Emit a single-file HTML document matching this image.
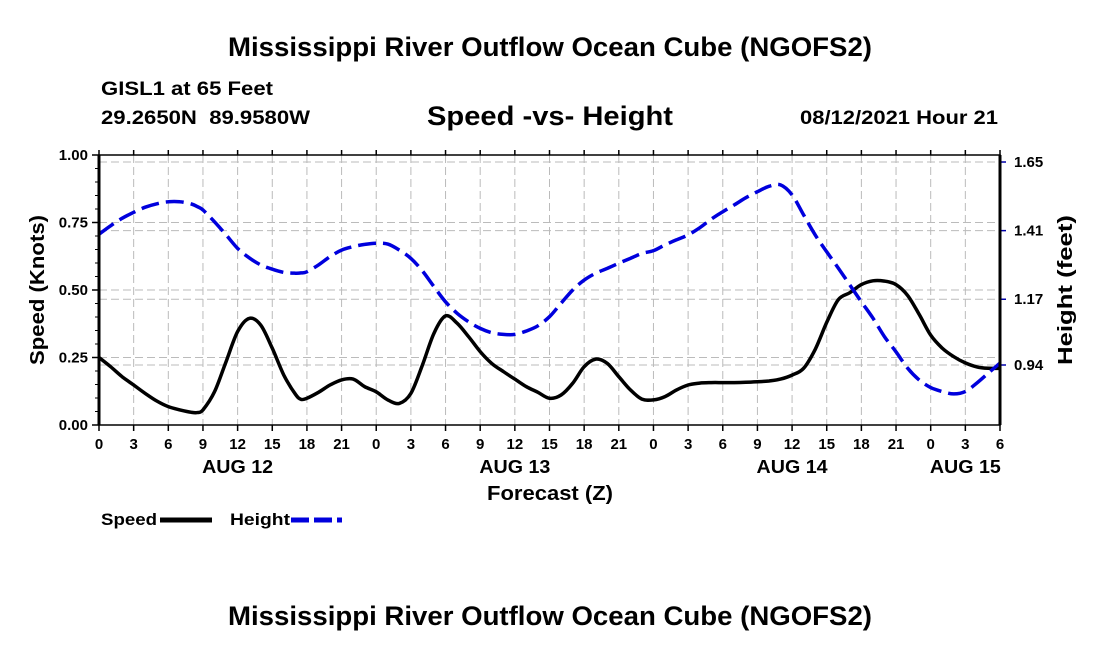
<!DOCTYPE html>
<html><head><meta charset="utf-8"><style>
body{margin:0;background:#fff;}
svg{display:block;font-family:"Liberation Sans",Arial,sans-serif;font-weight:bold;}
</style></head><body>
<svg id="chart" width="1100" height="650" viewBox="0 0 1100 650" xmlns="http://www.w3.org/2000/svg">
<rect width="1100" height="650" fill="#fff"/>
<text x="228" y="56" font-size="27" textLength="644" lengthAdjust="spacingAndGlyphs">Mississippi River Outflow Ocean Cube (NGOFS2)</text>
<text x="101" y="95" font-size="19" textLength="172" lengthAdjust="spacingAndGlyphs">GISL1 at 65 Feet</text>
<text x="101" y="124" font-size="19" textLength="209" lengthAdjust="spacingAndGlyphs" xml:space="preserve">29.2650N  89.9580W</text>
<text x="427" y="125" font-size="27" textLength="246" lengthAdjust="spacingAndGlyphs">Speed -vs- Height</text>
<text x="800" y="124" font-size="19" textLength="198" lengthAdjust="spacingAndGlyphs">08/12/2021 Hour 21</text>
<text transform="translate(44,290) rotate(-90)" font-size="20" text-anchor="middle" textLength="150" lengthAdjust="spacingAndGlyphs">Speed (Knots)</text>
<text transform="translate(1072,290) rotate(-90)" font-size="20" text-anchor="middle" textLength="150" lengthAdjust="spacingAndGlyphs">Height (feet)</text>
<text x="487" y="500" font-size="20" textLength="126" lengthAdjust="spacingAndGlyphs">Forecast (Z)</text>
<g id="grid"></g>
<g id="series"></g>
<g id="axes"></g>
<g>
<text x="101" y="525" font-size="17" textLength="56" lengthAdjust="spacingAndGlyphs">Speed</text>
<line x1="160" y1="520" x2="212" y2="520" stroke="#000" stroke-width="5"/>
<text x="230" y="525" font-size="17" textLength="60" lengthAdjust="spacingAndGlyphs">Height</text>
<line x1="291" y1="520" x2="342" y2="520" stroke="#0000dd" stroke-width="5" stroke-dasharray="18,5"/>
</g>
<text x="228" y="625" font-size="27" textLength="644" lengthAdjust="spacingAndGlyphs">Mississippi River Outflow Ocean Cube (NGOFS2)</text>
</svg>
<script>
const hours = [0,1,2,3,4,5,6,7,8,8.5,9,10,11,12,13,14,15,16,17,17.5,18,19,20,21,22,23,24,25,26,27,28,29,30,31,32,33,34,35,36,37,38,39,40,41,42,43,44,45,46,47,48,49,50,51,52,53,54,55,56,57,58,59,60,61,62,63,64,65,66,67,68,69,70,71,72,73,74,75,76,77,78];
const speedKnots = [0.25,0.216,0.179,0.148,0.117,0.089,0.068,0.056,0.047,0.046,0.056,0.123,0.235,0.346,0.395,0.37,0.284,0.185,0.114,0.095,0.099,0.121,0.148,0.167,0.17,0.142,0.123,0.093,0.08,0.117,0.222,0.34,0.404,0.377,0.327,0.272,0.228,0.198,0.17,0.142,0.121,0.099,0.111,0.154,0.216,0.244,0.228,0.179,0.13,0.096,0.093,0.105,0.13,0.148,0.155,0.157,0.157,0.157,0.158,0.16,0.163,0.17,0.185,0.21,0.28,0.38,0.464,0.49,0.52,0.534,0.533,0.52,0.48,0.41,0.333,0.285,0.253,0.23,0.215,0.21,0.21];
const heightFeet = [1.397,1.427,1.453,1.474,1.492,1.504,1.511,1.511,1.503,1.494,1.482,1.441,1.395,1.348,1.315,1.29,1.275,1.264,1.261,1.262,1.266,1.29,1.319,1.342,1.354,1.362,1.366,1.363,1.342,1.313,1.269,1.214,1.161,1.121,1.091,1.068,1.053,1.047,1.047,1.059,1.077,1.109,1.156,1.202,1.237,1.261,1.278,1.296,1.313,1.33,1.34,1.36,1.378,1.395,1.42,1.45,1.476,1.5,1.525,1.546,1.565,1.57,1.535,1.465,1.395,1.336,1.279,1.22,1.161,1.104,1.039,0.986,0.929,0.888,0.861,0.847,0.839,0.847,0.877,0.912,0.947];
const xTickLabels = ["0","3","6","9","12","15","18","21","0","3","6","9","12","15","18","21","0","3","6","9","12","15","18","21","0","3","6"];
const dayLabels = ["AUG 12","AUG 13","AUG 14","AUG 15"];
const dayLabelHours = [12,36,60,75];
const leftTicks = [0,0.25,0.5,0.75,1.0];
const leftTickLabels = ["0.00","0.25","0.50","0.75","1.00"];
const rightTicks = [0.94,1.17,1.41,1.65];
const rightTickLabels = ["0.94","1.17","1.41","1.65"];

const L=99,R=1000,T=155,B=425;
const HMAX=78;
const X=h=>L+(R-L)*h/HMAX;
const YL=v=>B-(B-T)*v/1.0;
const RPX=285.9;
const YR=v=>365-(v-0.94)*RPX;
const NS='http://www.w3.org/2000/svg';
function mk(tag,attrs,parent){const e=document.createElementNS(NS,tag);for(const k in attrs)e.setAttribute(k,attrs[k]);parent.appendChild(e);return e;}
const grid=document.getElementById('grid'),axes=document.getElementById('axes'),series=document.getElementById('series');

for(let i=0;i<xTickLabels.length;i++){
  const x=X(i*3);
  if(i>0&&i<xTickLabels.length-1){
    const g=mk('line',{x1:x,y1:T,x2:x,y2:B,stroke:'#bbb','stroke-width':1,'stroke-dasharray':'8,4'},grid);
    
    
  }
  const t=mk('line',{x1:x,y1:B,x2:x,y2:B+6,stroke:'#000','stroke-width':1.5},axes);
  
  
  const t2=mk('line',{x1:x,y1:T,x2:x,y2:T-5,stroke:'#000','stroke-width':1.5},axes);
  
  
  const lb=mk('text',{x:x,y:B+24,'font-size':15,'text-anchor':'middle'},axes);
  lb.textContent=xTickLabels[i];
  
  
}
for(let i=0;i<dayLabels.length;i++){
  const lb=mk('text',{x:X(dayLabelHours[i]),y:B+48,'font-size':18,'text-anchor':'middle',textLength:71,lengthAdjust:'spacingAndGlyphs'},axes);
  lb.textContent=dayLabels[i];
  
  
}
for(let i=0;i<leftTicks.length;i++){
  const y=YL(leftTicks[i]);
  if(leftTicks[i]>0&&leftTicks[i]<1){
    const g=mk('line',{x1:L,y1:y,x2:R,y2:y,stroke:'#bbb','stroke-width':1,'stroke-dasharray':'8,4'},grid);
    
    
  }
  const t=mk('line',{x1:L-7,y1:y,x2:L,y2:y,stroke:'#000','stroke-width':1.5},axes);
  
  
  const lb=mk('text',{x:L-11,y:y+5,'font-size':15,'text-anchor':'end'},axes);
  lb.textContent=leftTickLabels[i];
  
  
}
for(let v=0.05;v<1;v+=0.05){
  const y=YL(v);
  const t=mk('line',{x1:L-4,y1:y,x2:L,y2:y,stroke:'#000','stroke-width':1},axes);
  
  
}
for(let i=0;i<rightTicks.length;i++){
  const y=YR(rightTicks[i]);
  const g=mk('line',{x1:L,y1:y,x2:R,y2:y,stroke:'#bbb','stroke-width':1,'stroke-dasharray':'8,4'},grid);
  
  
  const t=mk('line',{x1:R,y1:y,x2:R+6,y2:y,stroke:'#0000aa','stroke-width':1.5},axes);
  
  
  const lb=mk('text',{x:R+14,y:y+5,'font-size':15},axes);
  lb.textContent=rightTickLabels[i];
  
  
}
const fr=mk('rect',{x:L,y:T,width:R-L,height:B-T,fill:'none',stroke:'#000','stroke-width':1.5},axes);


const lax=mk('line',{x1:L,y1:T,x2:L,y2:B,stroke:'#000','stroke-width':3},axes);


const rax=mk('line',{x1:R,y1:T,x2:R,y2:B,stroke:'#000','stroke-width':3},axes);



function smooth(pts){
  let d='M'+pts[0][0].toFixed(1)+','+pts[0][1].toFixed(1);
  for(let i=0;i<pts.length-1;i++){
    const p0=pts[Math.max(0,i-1)],p1=pts[i],p2=pts[i+1],p3=pts[Math.min(pts.length-1,i+2)];
    const c1=[p1[0]+(p2[0]-p0[0])/6,p1[1]+(p2[1]-p0[1])/6];
    const c2=[p2[0]-(p3[0]-p1[0])/6,p2[1]-(p3[1]-p1[1])/6];
    d+=' C'+c1[0].toFixed(1)+','+c1[1].toFixed(1)+' '+c2[0].toFixed(1)+','+c2[1].toFixed(1)+' '+p2[0].toFixed(1)+','+p2[1].toFixed(1);
  }
  return d;
}
const sp=mk('path',{d:smooth(hours.map((h,i)=>[X(h),YL(speedKnots[i])])),fill:'none',stroke:'#000','stroke-width':3.5,'stroke-linejoin':'round'},series);


const hp=mk('path',{d:smooth(hours.map((h,i)=>[X(h),YR(heightFeet[i])])),fill:'none',stroke:'#0000dd','stroke-width':3.5,'stroke-dasharray':'18,7'},series);


</script>
</body></html>
